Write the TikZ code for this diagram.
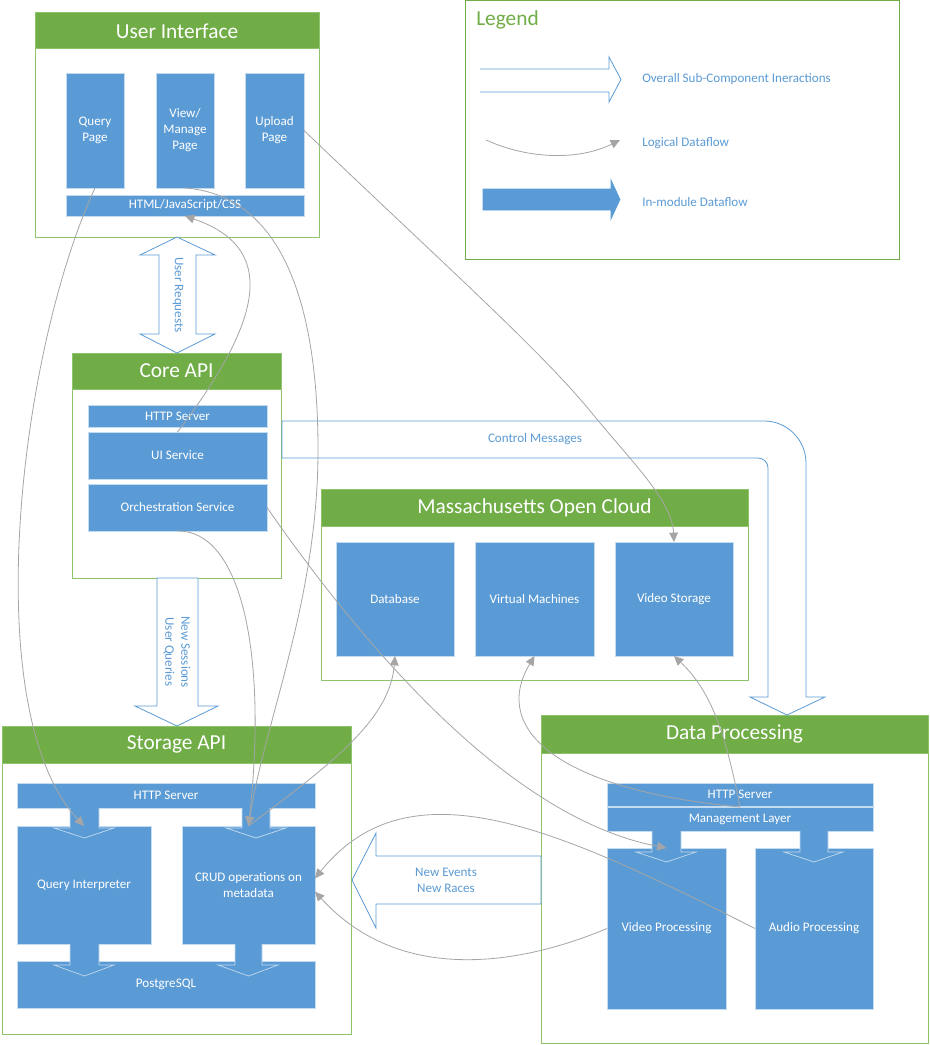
\documentclass[tikz,border=0pt]{standalone}
\usepackage{fontspec}
\setmainfont{Carlito}
\usetikzlibrary{arrows.meta,calc}

\definecolor{cgreen}{HTML}{70AD47}
\definecolor{cgreenl}{HTML}{8FC36C}
\definecolor{cblue}{HTML}{5B9BD5}
\definecolor{cbluel}{HTML}{C5DBF0}
\definecolor{cgray}{HTML}{A5A5A5}

\newcommand\smallfont{\fontsize{9.8}{12}\selectfont}
\newcommand\titlefont{\fontsize{16}{19}\selectfont}

\tikzset{
  blk/.style={fill=cblue, draw=cbluel, line width=0.5pt, text=white, font=\smallfont,
              align=center, inner sep=0pt, outer sep=0pt},
  container/.style={fill=white, draw=cgreenl, line width=0.75pt, inner sep=0pt, outer sep=0pt},
  hdr/.style={fill=cgreen, draw=cgreenl, line width=0.75pt, text=white, font=\titlefont,
              inner sep=0pt, outer sep=0pt},
  flow/.style={draw=cgray, line width=0.6pt, -{Triangle[length=7pt,width=6.5pt]}},
  bigarrow/.style={draw=cblue, fill=white, line width=0.6pt, line join=miter},
  inarrow/.style={fill=cblue, draw=cbluel, line width=0.5pt, line join=miter},
  lbl/.style={text=cblue, font=\smallfont, align=center, inner sep=0pt},
}

% block: name, x1, y1, x2, y2, text   (pixel units, y downwards)
\newcommand\mkblock[6]{%
  \node[blk, minimum width={(#4-#2)*0.75pt}, minimum height={(#5-#3)*0.75pt}]
    (#1) at ({(#2+#4)/2},{(#3+#5)/2}) {#6};}
% group frame with green title bar: name, x1, y1, x2, y2, bar bottom, title
\newcommand\mkgroup[7]{%
  \node[container, minimum width={(#4-#2)*0.75pt}, minimum height={(#5-#3)*0.75pt}]
    (#1) at ({(#2+#4)/2},{(#3+#5)/2}) {};
  \node[hdr, minimum width={(#4-#2)*0.75pt}, minimum height={(#6-#3)*0.75pt}]
    (#1-h) at ({(#2+#4)/2},{(#3+#6)/2}) {#7};}
% filled downward arrow: shaft left, shaft right, top, head base, head left, head right, tip
\newcommand\blockdown[7]{%
  \draw[inarrow] (#1,#3) -- (#1,#4) -- (#5,#4) -- ({(#1+#2)/2},#7) -- (#6,#4) -- (#2,#4) -- (#2,#3);}

\begin{document}
\begin{tikzpicture}[x=0.75pt, y=-0.75pt]
\useasboundingbox (0,0) rectangle (930,1045);

% ---------- Legend ----------
\node[container, draw=cgreen, minimum width={(899-465)*0.75pt}, minimum height={(259-1)*0.75pt}]
  (legend) at ({(465+899)/2},{(1+259)/2}) {};
\node[anchor=west, text=cgreen, font=\titlefont, inner sep=0pt] (legendtitle) at (476,20) {Legend};
\draw[bigarrow, fill=none] (480,69) -- (609,69) -- (609,57) -- (621,79.5) -- (609,102) -- (609,92) -- (480,92);
\node[lbl, anchor=west] (lg1) at (642,79) {Overall Sub-Component Ineractions};
\coordinate (lgA) at (486,140);
\coordinate (lgB) at (620,140);
\draw[flow] (lgA) .. controls (530,160) and (580,160) .. (lgB);
\node[lbl, anchor=west] (lg2) at (642,143) {Logical Dataflow};
\draw[inarrow, draw=cblue] (483,189) -- (611,189) -- (611,180) -- (620,199.5) -- (611,219) -- (611,210) -- (483,210) -- cycle;
\node[lbl, anchor=west] (lg3) at (642,202) {In-module Dataflow};

% ---------- User Interface ----------
\mkgroup{ui}{35}{13}{319}{237}{49}{User Interface}
\mkblock{qpage}{66}{73}{124}{188}{Query\\Page}
\mkblock{vpage}{156}{73}{214}{188}{View/\\Manage\\Page}
\mkblock{upage}{245}{73}{304}{188}{Upload\\Page}
\mkblock{html}{66}{195}{304}{216}{HTML/JavaScript/CSS}

% ---------- Core API ----------
\mkgroup{core}{72}{353}{281}{578}{389}{Core API}
\mkblock{chttp}{88}{405}{267}{427}{HTTP Server}
\mkblock{uisvc}{88}{432}{267}{479}{UI Service}
\mkblock{orch}{88}{484}{267}{531}{Orchestration Service}

% ---------- Massachusetts Open Cloud ----------
\mkgroup{moc}{321}{489}{748}{680}{526}{Massachusetts Open Cloud}
\mkblock{db}{336}{542}{454}{656}{Database}
\mkblock{vm}{475}{542}{594}{656}{Virtual Machines}
\mkblock{vstor}{615}{542}{733}{656}{Video Storage}

% ---------- Storage API ----------
\mkgroup{stor}{2}{726}{351}{1034}{763}{Storage API}
\mkblock{shttp}{17}{783}{315}{808}{HTTP Server}
\mkblock{qint}{17}{826}{151}{944}{Query Interpreter}
\mkblock{crud}{182}{826}{315}{944}{CRUD operations on\\metadata}
\mkblock{pg}{17}{961}{315}{1008}{PostgreSQL}
\blockdown{70}{99}{808}{828}{54}{114}{838}
\blockdown{242}{270}{808}{828}{226}{286}{838}
\blockdown{70}{99}{944}{965}{54}{114}{976}
\blockdown{235}{262}{944}{965}{218}{278}{976}

% ---------- Data Processing ----------
\mkgroup{dp}{541}{715}{928}{1043}{753}{Data Processing}
\mkblock{dhttp}{607}{783}{873}{806}{HTTP Server}
\mkblock{mgmt}{607}{807}{873}{831}{Management Layer}
\mkblock{vproc}{607}{848}{726}{1009}{Video Processing}
\mkblock{aproc}{755}{848}{873}{1009}{Audio Processing}
\blockdown{652}{681}{831}{852}{636}{696}{862}
\blockdown{800}{828}{831}{852}{784}{843}{862}

% ---------- Sub-component interaction arrows ----------
% user requests (two-headed)
\draw[bigarrow] (177,237) -- (215,255) -- (196,255) -- (196,334) -- (215,334) -- (177,353)
  -- (140,334) -- (159,334) -- (159,255) -- (140,255) -- cycle;
\node[lbl, rotate=-90] (ureq) at (178,295) {User Requests};

% new sessions / user queries
\draw[bigarrow] (157,578) -- (157,706) -- (135,706) -- (177,726) -- (218,706) -- (198,706) -- (198,578) -- cycle;
\node[lbl, rotate=-90] (nsess) at (177,652) {New Sessions\\User Queries};

% control messages
\draw[bigarrow] (282,421) -- (764,421) .. controls (787.2,421) and (806,439.8) .. (806,463)
  -- (806,697) -- (825,697) -- (787,715) -- (750,697) -- (768,697) -- (768,468)
  .. controls (768,462.5) and (763.5,458) .. (758,458) -- (282,458) -- cycle;
\node[lbl] (ctrl) at (535,439) {Control Messages};

% new events / new races
\draw[bigarrow] (541,856) -- (376,856) -- (376,833) -- (352,880) -- (376,928) -- (376,904) -- (541,904) -- cycle;
\node[lbl] (nev) at (446,880) {New Events\\New Races};

% ---------- Logical dataflow ----------
\draw[flow] (qpage.south) .. controls (20,350) and (-24,710) .. (qint.north);
\draw[flow] (vpage.south) .. controls (280,195) and (318,300) .. (318,450)
  .. controls (318,600) and (265,720) .. (crud.north);
\draw[flow] (uisvc.north) .. controls (255,330) and (285,250) .. (html.south);
\draw[flow] (orch.south) .. controls (240,530) and (268,650) .. (crud.north);
\draw[flow] (upage.east) .. controls (450,270) and (540,350) .. (591,412)
  .. controls (630,460) and (672,500) .. (vstor.north);
\draw[flow] (orch.east) .. controls (380,670) and (520,820) .. (vproc.north);
\draw[flow] (crud.north) .. controls (330,765) and (390,720) .. (db.south);
\draw[flow] (mgmt.north) .. controls (560,790) and (490,730) .. (vm.south);
\draw[flow] (mgmt.north) .. controls (725,730) and (710,690) .. (vstor.south);
\draw[flow] (aproc.west) .. controls (560,830) and (410,760) .. ([yshift=5pt]crud.east);
\draw[flow] (vproc.west) .. controls (520,965) and (400,985) .. ([yshift=-5pt]crud.east);
\end{tikzpicture}
\end{document}
